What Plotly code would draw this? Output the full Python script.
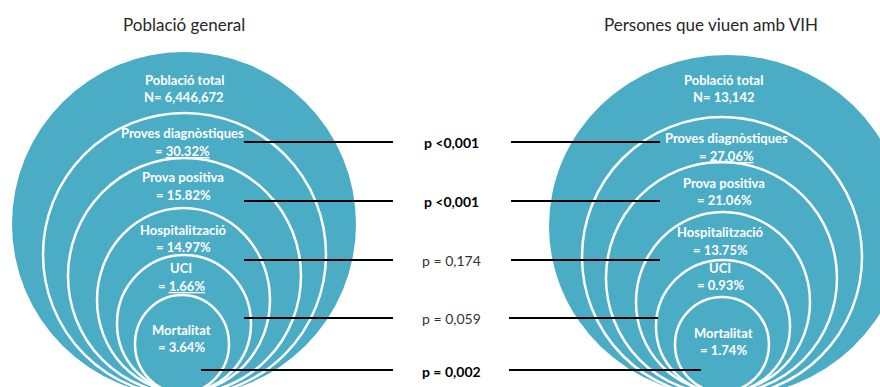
import plotly.graph_objects as go

# ---- data ----
panel_titles = ["Població general", "Persones que viuen amb VIH"]
total_label = "Població total"
total_n = ["N= 6,446,672", "N= 13,142"]
stages = ["Proves diagnòstiques", "Prova positiva", "Hospitalització", "UCI", "Mortalitat"]
general_pct = ["30.32%", "15.82%", "14.97%", "1.66%", "3.64%"]
vih_pct = ["27.06%", "21.06%", "13.75%", "0.93%", "1.74%"]
p_values = ["p <0,001", "p <0,001", "p = 0,174", "p = 0,059", "p = 0,002"]
p_significant = [True, True, False, False, True]
underlined_general = [True, False, False, True, False]
underlined_vih = [True, False, False, False, False]

# ---- layout geometry (pixel space) ----
BLUE = "#4BACC6"
FONT = "Lato"
panel_cx = [184, 723]
title_x = [184, 711]
title_y = 24
# outer filled circle bounding boxes: (x0, y0, x1, y1)
outer_box = [(12, 52, 356, 396), (549, 55, 905, 397)]
# inner white rings per panel
inner_boxes = [
    [(43, 113, 326, 396), (68, 158, 301, 394), (97, 208, 270, 392), (117, 255, 251, 392), (135, 295, 229, 393)],
    [(582, 117, 862, 397), (606, 162, 837, 394), (636, 212, 810, 392), (656, 260, 790, 393), (675, 297, 769, 392)],
]
total_y = (80, 97)
label_y = [
    [(133, 151), (177, 195), (230, 247), (268, 286), (330, 347)],
    [(138, 156), (183, 200), (232, 250), (268, 285), (333, 350)],
]
label_x = [[182, 183, 183, 181, 181], [726, 724, 720, 720, 723]]
row_y = [142, 201, 260, 318, 370]
left_line_x = [(244, 393), (244, 393), (244, 393), (244, 393), (201, 393)]
right_line_x = [(511, 660), (511, 660), (511, 660), (509, 658), (509, 701)]
p_x = 451

fig = go.Figure()
fig.add_trace(go.Scatter(x=[0, 880], y=[0, 387], mode="markers",
                         marker=dict(opacity=0), hoverinfo="skip", showlegend=False))

shapes = []
for b in outer_box:
    shapes.append(dict(type="circle", xref="x", yref="y", x0=b[0], y0=b[1], x1=b[2], y1=b[3],
                       fillcolor=BLUE, line=dict(width=0)))
for boxes in inner_boxes:
    for b in boxes:
        shapes.append(dict(type="circle", xref="x", yref="y", x0=b[0], y0=b[1], x1=b[2], y1=b[3],
                           fillcolor="rgba(0,0,0,0)", line=dict(color="white", width=2.5)))
for y, (a, b) in zip(row_y, left_line_x):
    shapes.append(dict(type="line", xref="x", yref="y", x0=a, x1=b, y0=y, y1=y,
                       line=dict(color="black", width=1.8)))
for y, (a, b) in zip(row_y, right_line_x):
    shapes.append(dict(type="line", xref="x", yref="y", x0=a, x1=b, y0=y, y1=y,
                       line=dict(color="black", width=1.8)))

ann = []
def add_text(x, y, text, size, color, bold=False):
    ann.append(dict(x=x, y=y, xref="x", yref="y", text=f"<b>{text}</b>" if bold else text,
                    showarrow=False, xanchor="center", yanchor="middle",
                    font=dict(family=FONT, size=size, color=color)))

for i in range(2):
    add_text(title_x[i], title_y, panel_titles[i], 17, "#262626")
    add_text(panel_cx[i], total_y[0], total_label, 13, "white", True)
    add_text(panel_cx[i], total_y[1], total_n[i], 13, "white", True)
    pcts = general_pct if i == 0 else vih_pct
    und = underlined_general if i == 0 else underlined_vih
    for k, s in enumerate(stages):
        y1, y2 = label_y[i][k]
        add_text(label_x[i][k], y1, s, 13, "white", True)
        val = f"<u>{pcts[k]}</u>" if und[k] else pcts[k]
        add_text(label_x[i][k], y2, "= " + val, 13, "white", True)

for k, p in enumerate(p_values):
    add_text(p_x, row_y[k] + (1 if k == 4 else 0), p, 14,
             "black" if p_significant[k] else "#333333", p_significant[k])

fig.update_layout(
    width=880, height=387, margin=dict(l=0, r=0, t=0, b=0),
    paper_bgcolor="white", plot_bgcolor="white",
    xaxis=dict(range=[0, 880], visible=False, fixedrange=True),
    yaxis=dict(range=[387, 0], visible=False, fixedrange=True),
    shapes=shapes, annotations=ann, showlegend=False,
)
fig.write_html("out.html")
